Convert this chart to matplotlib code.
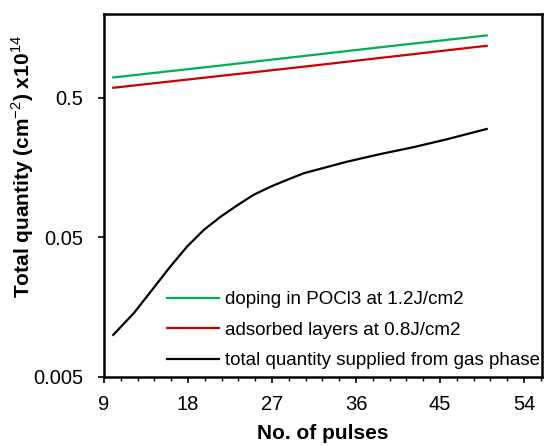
import numpy as np
import matplotlib
matplotlib.use("Agg")
import matplotlib.pyplot as plt
from matplotlib.ticker import FixedLocator, NullLocator, MultipleLocator

plt.rcParams["font.family"] = ["Liberation Sans", "DejaVu Sans"]
plt.rcParams["mathtext.fontset"] = "custom"
plt.rcParams["mathtext.rm"] = "Liberation Sans"
plt.rcParams["mathtext.bf"] = "Liberation Sans:bold"

# values
pulses_lines = [10, 20, 30, 40, 50]
doping_pocl3 = [0.70, 0.83, 0.99, 1.18, 1.40]
adsorbed = [0.59, 0.70, 0.83, 0.99, 1.18]

pulses_gas = [10, 12.2, 14.3, 16.1, 17.9, 19.7, 21.5, 23.3, 25, 26.8,
              28.6, 30.4, 35, 38.5, 42.1, 45.7, 50]
gas_phase = [0.0100, 0.0143, 0.0216, 0.0308, 0.0429, 0.0565, 0.0703,
             0.085, 0.1006, 0.115, 0.129, 0.144, 0.174, 0.197, 0.221,
             0.252, 0.299]

x_ticks = [9, 18, 27, 36, 45, 54]
y_ticks = [0.005, 0.05, 0.5]
y_tick_labels = ["0.005", "0.05", "0.5"]

fig = plt.figure(figsize=(5.44, 4.46), dpi=100)
ax = fig.add_axes([0.191, 0.155, 0.805, 0.814])

ax.plot(pulses_lines, doping_pocl3, color="#00b050", lw=1.6,
        label="doping in POCl3 at 1.2J/cm2")
ax.plot(pulses_lines, adsorbed, color="#cc0000", lw=1.6,
        label="adsorbed layers at 0.8J/cm2")
ax.plot(pulses_gas, gas_phase, color="black", lw=1.6,
        label="total quantity supplied from gas phase")

ax.set_yscale("log")
ax.set_ylim(0.005, 2.0)
ax.set_xlim(9, 55.9)
ax.yaxis.set_major_locator(FixedLocator(y_ticks))
ax.yaxis.set_minor_locator(NullLocator())
ax.set_yticklabels(y_tick_labels)
ax.set_xticks(x_ticks)
ax.xaxis.set_minor_locator(MultipleLocator(1.8))

for s in ax.spines.values():
    s.set_linewidth(1.8)
ax.tick_params(axis="both", which="major", direction="out", length=4,
               width=1.2, labelsize=14.5)
ax.tick_params(axis="y", pad=11)
ax.tick_params(axis="x", pad=9)
ax.tick_params(axis="x", which="minor", direction="out", length=3, width=1)

ax.set_xlabel("No. of pulses", fontsize=15, fontweight="bold", labelpad=7)
ax.set_ylabel(r"Total quantity (cm$^{\mathrm{-2}}$) x10$^{\mathrm{14}}$",
              fontsize=15, fontweight="bold")
ax.yaxis.set_label_coords(-0.155, 0.578)

ax.legend(loc="lower left", bbox_to_anchor=(0.126, 0.0), frameon=False,
          fontsize=13.5, handlelength=2.8, handletextpad=0.3,
          labelspacing=0.72, borderpad=0.2, borderaxespad=0.2)

fig.savefig("out.png", dpi=100)
